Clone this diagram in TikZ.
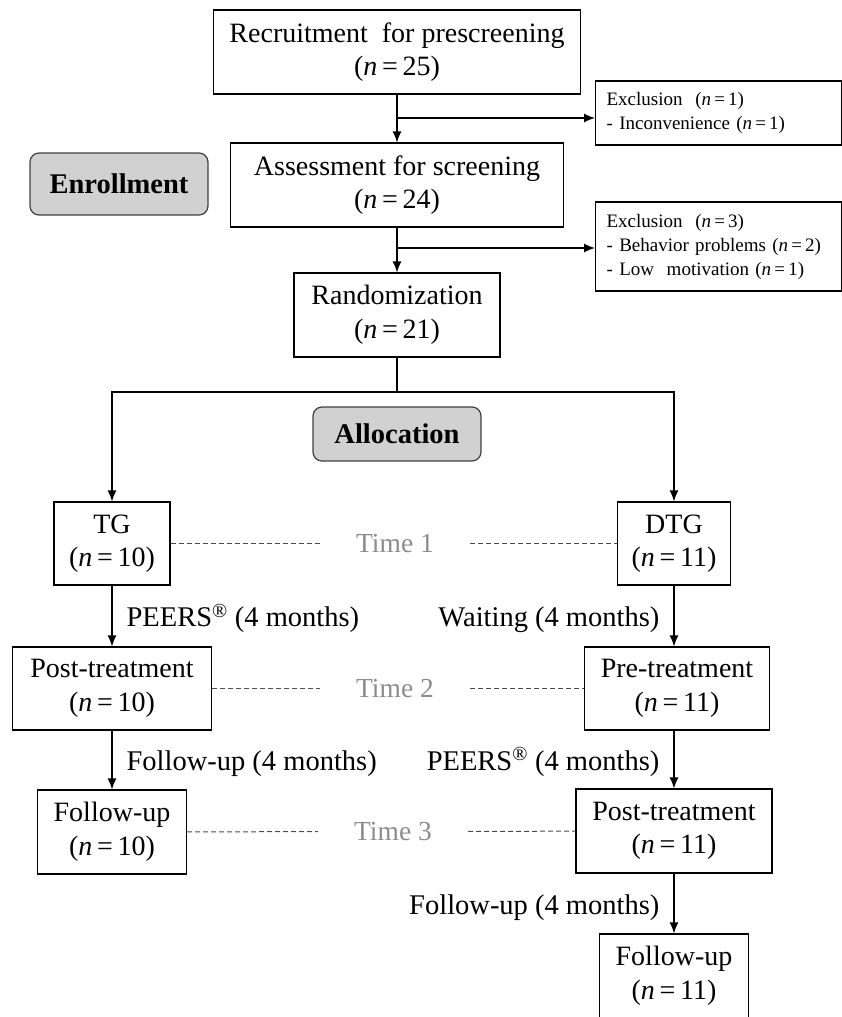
\documentclass[tikz,border=0pt]{standalone}
\usepackage{fontspec}
\setmainfont{Liberation Serif}
\usetikzlibrary{arrows.meta}
\begin{document}
\begin{tikzpicture}[x=1pt,y=-1pt]

    \tikzset{
      box/.style={
        draw,
        line width=1.2pt,
        align=center,
        inner sep=0pt,
        font=\fontsize{28}{33.5}\selectfont,
      },
      exbox/.style={
        draw,
        line width=1.2pt,
        align=left,
        anchor=west,
        inner xsep=11pt,
        inner ysep=0pt,
        text width=224pt,
        font=\fontsize{19}{24}\selectfont,
      },
      phase/.style={
        draw=black!75,
        fill=black!18,
        rounded corners=9pt,
        line width=1.2pt,
        font=\bfseries\fontsize{28.5}{30}\selectfont,
      },
      timelbl/.style={text=black!45,inner xsep=36pt,font=\fontsize{27.5}{30}\selectfont},
      steplbl/.style={inner xsep=14pt,text height=19pt,text depth=6pt,yshift=-4pt,font=\fontsize{28.5}{30}\selectfont},
      arr/.style={line width=1.2pt,->,>={Latex[length=11pt,width=9pt]}},
      timeline/.style={draw=black!70,line width=1pt,dash pattern=on 5pt off 3pt},
    }
    \useasboundingbox (0,0) rectangle (842,1017);
    \clip (0,0) rectangle (842,1017);

	\node[box,minimum width=367pt,minimum height=84pt] (recruit) at (397,52) {Recruitment\ \ for prescreening\\(\textit{n}\,=\,25)};
	\node[box,minimum width=333pt,minimum height=84pt] (assess) at (397,185) {Assessment for screening\\(\textit{n}\,=\,24)};
	\node[box,minimum width=206pt,minimum height=84pt] (random) at (397,315) {Randomization\\(\textit{n}\,=\,21)};
	\node[exbox,minimum height=64pt] (excl1) at (595,113) {Exclusion\ \ (\textit{n}\,=\,1)\\- Inconvenience (\textit{n}\,=\,1)};
	\node[exbox,minimum height=89pt] (excl2) at (595,246.5) {Exclusion\ \ (\textit{n}\,=\,3)\\- Behavior problems (\textit{n}\,=\,2)\\- Low\ \ motivation (\textit{n}\,=\,1)};
	\node[phase,minimum width=178pt,minimum height=62pt] (enroll) at (119,184) {Enrollment};
	\node[phase,minimum width=168pt,minimum height=54pt] (alloc) at (397,434) {Allocation};

	\node[box,minimum width=116pt,minimum height=83pt] (tg) at (112,543.5) {TG\\(\textit{n}\,=\,10)};
	\node[box,minimum width=113pt,minimum height=83pt] (dtg) at (674,543.5) {DTG\\(\textit{n}\,=\,11)};
	\node[box,minimum width=199pt,minimum height=83pt] (post1) at (112,688.5) {Post-treatment\\(\textit{n}\,=\,10)};
	\node[box,minimum width=185pt,minimum height=83pt] (pre2) at (677,688.5) {Pre-treatment\\(\textit{n}\,=\,11)};
	\node[box,minimum width=149pt,minimum height=84pt] (follow1) at (112,832) {Follow-up\\(\textit{n}\,=\,10)};
	\node[box,minimum width=196pt,minimum height=84pt] (post2) at (674,831) {Post-treatment\\(\textit{n}\,=\,11)};
	\node[box,minimum width=149pt,minimum height=84pt] (follow2) at (674,976) {Follow-up\\(\textit{n}\,=\,11)};

	\node[timelbl] (time1) at (395,543.5) {Time 1};
	\node[timelbl] (time2) at (395,688.5) {Time 2};
	\node[timelbl] (time3) at (393,831.5) {Time 3};

	\coordinate (cut1) at (397,118);
	\coordinate (cut2) at (397,248);
	\coordinate (split) at (397,392);

	\draw[arr] (recruit) -- (assess);
	\draw[arr] (cut1) -- (cut1 -| excl1.west);
	\draw[arr] (assess) -- (random);
	\draw[arr] (cut2) -- (cut2 -| excl2.west);
	\draw[line width=1.2pt] (random) -- (split);
	\draw[arr] (split) -| (tg);
	\draw[arr] (split) -| (dtg);

	\draw[arr] (tg) -- node[steplbl,right] {PEERS\textsuperscript{\textregistered} (4 months)} (post1);
	\draw[arr] (post1) -- node[steplbl,right] {Follow-up (4 months)} (follow1);
	\draw[arr] (dtg) -- node[steplbl,left] {Waiting (4 months)} (dtg |- pre2.north);
	\draw[arr] (dtg |- pre2.south) -- node[steplbl,left] {PEERS\textsuperscript{\textregistered} (4 months)} (post2);
	\draw[arr] (post2) -- node[steplbl,left] {Follow-up (4 months)} (follow2);

	\draw[timeline] (tg) -- (time1);
	\draw[timeline] (time1) -- (dtg);
	\draw[timeline] (post1) -- (time2);
	\draw[timeline] (time2) -- (pre2);
	\draw[timeline] (follow1) -- (time3);
	\draw[timeline] (time3) -- (post2);

\end{tikzpicture}
\end{document}
